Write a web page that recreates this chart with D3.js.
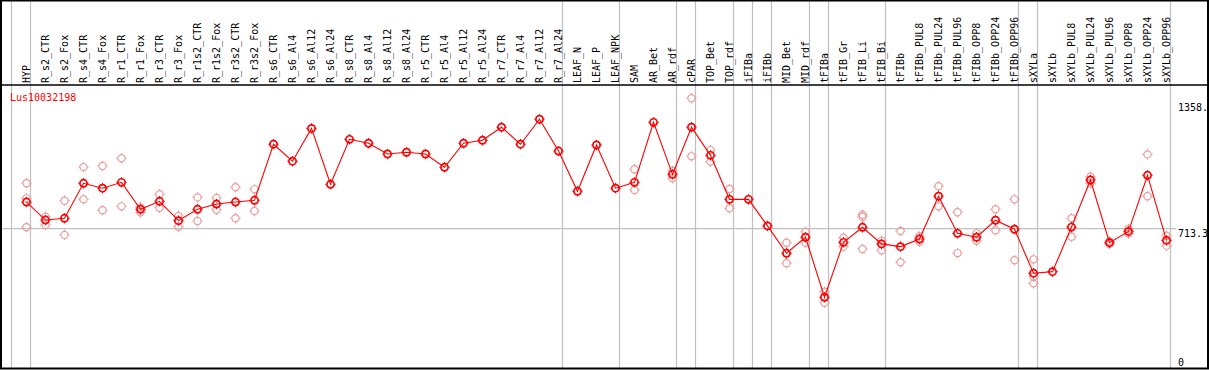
<!DOCTYPE html>
<html><head><meta charset="utf-8">
<script src="https://cdn.jsdelivr.net/npm/d3@7"></script>
<style>html,body{margin:0;padding:0;background:#fff;overflow:hidden}</style>
</head><body><svg id="c" width="1209" height="370"></svg>
<script>
const geneName = "Lus10032198";
const categories = ["HYP","R_s2_CTR","R_s2_Fox","R_s4_CTR","R_s4_Fox","R_r1_CTR","R_r1_Fox","R_r3_CTR","R_r3_Fox","R_r1s2_CTR","R_r1s2_Fox","R_r3s2_CTR","R_r3s2_Fox","R_s6_CTR","R_s6_Al4","R_s6_Al12","R_s6_Al24","R_s8_CTR","R_s8_Al4","R_s8_Al12","R_s8_Al24","R_r5_CTR","R_r5_Al4","R_r5_Al12","R_r5_Al24","R_r7_CTR","R_r7_Al4","R_r7_Al12","R_r7_Al24","LEAF_N","LEAF_P","LEAF_NPK","SAM","AR_Bet","AR_rdf","cPAR","TOP_Bet","TOP_rdf","iFIBa","iFIBb","MID_Bet","MID_rdf","tFIBa","tFIB_Gr","tFIB_Li","tFIB_Bi","tFIBb","tFIBb_PUL8","tFIBb_PUL24","tFIBb_PUL96","tFIBb_OPP8","tFIBb_OPP24","tFIBb_OPP96","sXYLa","sXYLb","sXYLb_PUL8","sXYLb_PUL24","sXYLb_PUL96","sXYLb_OPP8","sXYLb_OPP24","sXYLb_OPP96"];
const meanValues = [849,757,766,945,920,950,812,853,754,812,839,849,858,1145,1058,1226,940,1170,1150,1095,1104,1095,1027,1150,1165,1232,1145,1273,1110,904,1141,920,950,1257,991,1232,1088,863,863,727,587,669,362,643,720,635,621,660,879,689,669,756,710,485,493,721,962,641,699,986,653];
const replicateValues = [[945,868,720],[774,732],[856,681],[1028,863],[1034,807],[1073,827],[822,797],[889,820],[778,723],[873,752],[870,810],[925,766],[914,803],[],[],[],[],[],[],[],[],[],[],[],[],[],[],[],[],[],[],[],[1017,911],[],[1008,971],[1380,1083],[1115,1056],[916,817],[],[],[641,536],[697,641],[390,334],[667,621],[784,774,609],[651,602],[701,541],[646,674],[930,827],[797,588],[689,651],[812,705],[863,551],[556,467,433],[],[766,672],[979,945],[635,648],[711,688],[1093,879],[677,626]];
const yTickValues = [1358, 713.3, 0];
const yTickLabels = ["1358.", "713.3", "0"];
const gridLineValues = [713.3];
const groupBoundaryIndex = [-1,0,28,31,34,35,37,38,39,41,42,45,52,53,60];

const W = 1209, H = 370;
const svg = d3.select("#c");
const FONT = "DejaVu Sans Mono, monospace";
const x = d3.scaleLinear().domain([0, categories.length - 1]).range([26.5, 1166.5]);
const y = d3.scaleLinear().domain([0, 1448]).range([368, 85]);

// vertical group lines
svg.append("g").selectAll("line").data(groupBoundaryIndex).join("line")
  .attr("x1", d => x(d) + 4).attr("x2", d => x(d) + 4)
  .attr("y1", 0).attr("y2", 368)
  .attr("stroke", "#c0c0c0").attr("stroke-width", 1.2);
// horizontal grid
svg.append("g").selectAll("line").data(gridLineValues).join("line")
  .attr("x1", 1).attr("x2", 1176)
  .attr("y1", d => y(d)).attr("y2", d => y(d))
  .attr("stroke", "#c0c0c0").attr("stroke-width", 1.2);

function marker(g, color, sw) {
  g.append("circle").attr("r", 3.6).attr("fill", "none").attr("stroke", color).attr("stroke-width", sw);
  [[0,-1],[0,1],[1,0],[-1,0]].forEach(([dx,dy]) => {
    g.append("line").attr("x1", dx*3.6).attr("y1", dy*3.6).attr("x2", dx*5.2).attr("y2", dy*5.2)
      .attr("stroke", color).attr("stroke-width", 1);
  });
}

// replicates
const reps = [];
replicateValues.forEach((arr, i) => arr.forEach(v => reps.push({i, v})));
svg.append("g").selectAll("g").data(reps).join("g")
  .attr("transform", d => `translate(${x(d.i)},${y(d.v)})`)
  .each(function() { marker(d3.select(this), "#ec9c9c", 1.2); });

// mean line
svg.append("path").datum(meanValues)
  .attr("d", d3.line().x((d, i) => x(i)).y(d => y(d)))
  .attr("fill", "none").attr("stroke", "#ff0000").attr("stroke-width", 1.1);
svg.append("g").selectAll("g").data(meanValues).join("g")
  .attr("transform", (d, i) => `translate(${x(i)},${y(d)})`)
  .each(function() { marker(d3.select(this), "#ff0000", 1.7); });

// borders
svg.append("line").attr("x1", 0).attr("x2", W).attr("y1", 0.5).attr("y2", 0.5).attr("stroke", "#000").attr("stroke-width", 2);
svg.append("line").attr("x1", 0).attr("x2", W).attr("y1", 85).attr("y2", 85).attr("stroke", "#000").attr("stroke-width", 1.5);
svg.append("line").attr("x1", 0).attr("x2", W).attr("y1", 368.5).attr("y2", 368.5).attr("stroke", "#000").attr("stroke-width", 2);
svg.append("line").attr("x1", 1).attr("x2", 1).attr("y1", 0).attr("y2", 369).attr("stroke", "#000").attr("stroke-width", 2);
svg.append("line").attr("x1", 1208).attr("x2", 1208).attr("y1", 0).attr("y2", 369).attr("stroke", "#000").attr("stroke-width", 2);

// category labels
svg.append("g").selectAll("text").data(categories).join("text")
  .attr("transform", (d, i) => `translate(${x(i) + 3.6},83) rotate(-90)`)
  .attr("font-family", FONT).attr("font-size", 10).attr("fill", "#000")
  .text(d => d);

// right axis labels
svg.append("g").selectAll("text").data(yTickValues).join("text")
  .attr("x", 1178).attr("y", d => Math.min(y(d) + 8, 365.5))
  .attr("font-family", FONT).attr("font-size", 10).attr("fill", "#000")
  .text((d, i) => yTickLabels[i]);

// gene name
svg.append("text").attr("x", 10).attr("y", 101.3)
  .attr("font-family", FONT).attr("font-size", 10).attr("fill", "#ff0000")
  .text(geneName);
</script></body></html>
